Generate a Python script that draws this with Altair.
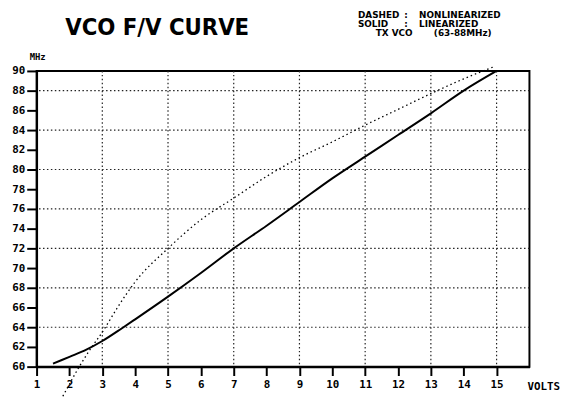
import altair as alt
import pandas as pd

# ---- data ----
solid_volts = [1.5, 2.0, 2.5, 3.0, 3.6, 4.0, 5.0, 6.0, 7.0, 8.0, 9.0, 10.0, 11.0, 12.0, 13.0, 14.0, 15.0]
solid_mhz   = [60.3, 61.0, 61.7, 62.6, 63.9, 64.8, 67.1, 69.5, 72.0, 74.3, 76.7, 79.1, 81.3, 83.5, 85.7, 88.0, 90.0]

dashed_volts = [1.8, 2.3, 2.6, 3.0, 3.5, 4.0, 5.0, 6.0, 7.0, 8.0, 9.0, 10.0, 11.0, 12.0, 13.0, 14.0, 14.9]
dashed_mhz   = [57.0, 60.0, 61.6, 63.5, 66.2, 68.6, 72.0, 74.9, 77.1, 79.3, 81.2, 82.8, 84.5, 86.1, 87.7, 89.2, 90.4]

x_ticks = list(range(1, 16))
y_ticks = list(range(60, 91, 2))
v_grid = [3, 5, 7, 9, 11, 13, 15]
h_grid = [64, 68, 72, 76, 80, 84, 88]

title_text = "VCO F/V CURVE"
legend_keys = ["DASHED", "SOLID"]
legend_vals = ["NONLINEARIZED", "LINEARIZED"]
legend_note = ["TX VCO", "(63-88MHz)"]
x_unit = "VOLTS"
y_unit = "MHz"

MONO = "DejaVu Sans Mono"
SANS = "DejaVu Sans"
TITLE_FONT = "DejaVu Sans Condensed, DejaVu Sans, sans-serif"

xs = alt.Scale(domain=[1, 16], nice=False, zero=False)
ys = alt.Scale(domain=[60, 90], nice=False, zero=False)

solid_df = pd.DataFrame({"v": solid_volts, "f": solid_mhz})
dashed_df = pd.DataFrame({"v": dashed_volts, "f": dashed_mhz})
vg_df = pd.DataFrame({"v": v_grid})
hg_df = pd.DataFrame({"f": h_grid})

x_axis = alt.Axis(values=x_ticks, grid=False, title=None, tickSize=9, tickWidth=2,
                  tickColor="black", domainColor="black", domainWidth=2,
                  labelFont=MONO, labelFontWeight="bold", labelFontSize=11,
                  labelColor="black", labelPadding=3, labelFlush=False,
                  labelOverlap=False, format="d")
y_axis = alt.Axis(values=y_ticks, grid=False, title=None, tickSize=10, tickWidth=2,
                  tickColor="black", domainColor="black", domainWidth=2,
                  labelFont=MONO, labelFontWeight="bold", labelFontSize=11,
                  labelColor="black", labelPadding=2, labelFlush=False,
                  labelOverlap=False, format="d")

X = alt.X("v:Q", scale=xs, axis=x_axis)
Y = alt.Y("f:Q", scale=ys, axis=y_axis)

vgrid = alt.Chart(vg_df).mark_rule(color="#222", strokeWidth=1.2, strokeDash=[1.5, 2.5]).encode(x=X)
hgrid = alt.Chart(hg_df).mark_rule(color="#222", strokeWidth=1.2, strokeDash=[1.5, 2.5]).encode(y=Y)

dashed = alt.Chart(dashed_df).mark_line(color="black", strokeWidth=1.3, strokeDash=[1.5, 3],
                                        clip=False, interpolate="monotone").encode(x=X, y=Y)
solid = alt.Chart(solid_df).mark_line(color="black", strokeWidth=2, clip=False,
                                      interpolate="monotone").encode(x=X, y=Y)


def label(text, x, y, size, font=SANS, weight="bold"):
    return alt.Chart(pd.DataFrame({"t": [text]})).mark_text(
        font=font, fontSize=size, fontWeight=weight, align="left", baseline="alphabetic",
        color="black").encode(text="t:N", x=alt.value(x), y=alt.value(y))


title = label(title_text, 29, -36, 24, font=TITLE_FONT)

legend_layers = []
for i, yy in enumerate([-53.5, -44.5]):
    legend_layers.append(label(legend_keys[i], 326, yy, 9))
    legend_layers.append(label(":", 373, yy, 9))
    legend_layers.append(label(legend_vals[i], 388, yy, 9))
legend_layers.append(label(legend_note[0], 344, -35.5, 9))
legend_layers.append(label(legend_note[1], 403, -35.5, 9))

volts = label(x_unit, 498, 324, 11, font=MONO)
mhz = label(y_unit, -7, -11, 9, font=MONO)

chart = alt.layer(vgrid, hgrid, dashed, solid, title, *legend_layers, volts, mhz).properties(
    width=500, height=300,
    autosize=alt.AutoSizeParams(type="none"),
    padding={"left": 29, "top": 61, "right": 31, "bottom": 32},
    background="white",
).configure_view(stroke="black", strokeWidth=2)

chart.save("out.html", embed_options={"renderer": "svg", "actions": False})
